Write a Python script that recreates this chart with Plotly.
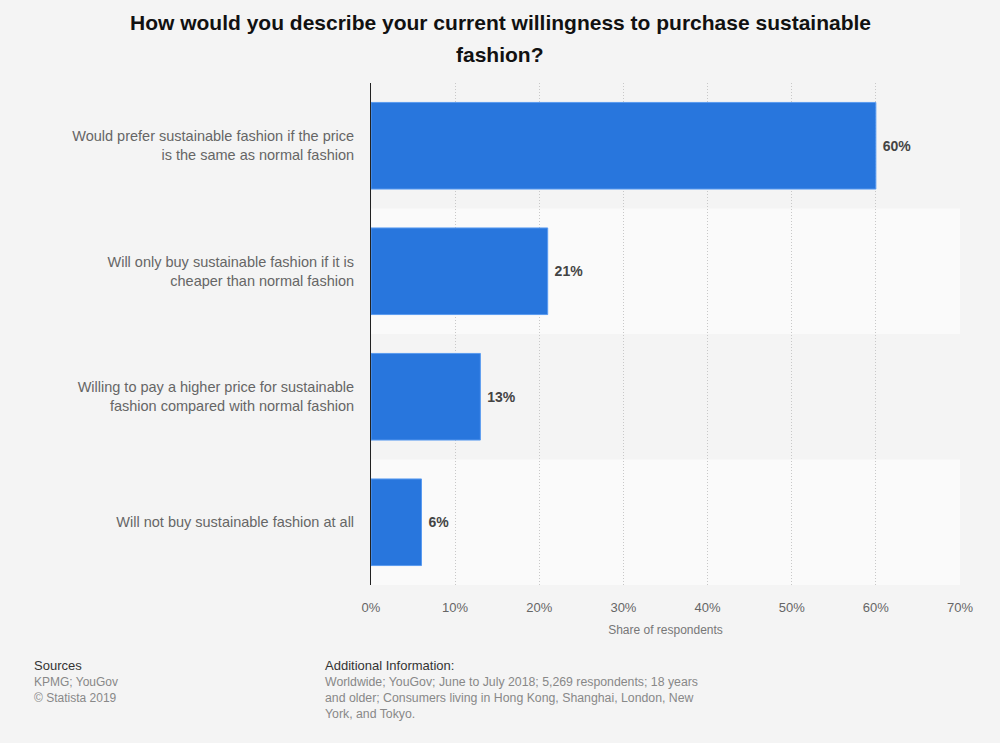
import plotly.graph_objects as go

# data
categories = [
    "Would prefer sustainable fashion if the price<br>is the same as normal fashion",
    "Will only buy sustainable fashion if it is<br>cheaper than normal fashion",
    "Willing to pay a higher price for sustainable<br>fashion compared with normal fashion",
    "Will not buy sustainable fashion at all",
]
values = [60, 21, 13, 6]
tick_vals = [0, 10, 20, 30, 40, 50, 60, 70]
tick_text = ["0%", "10%", "20%", "30%", "40%", "50%", "60%", "70%"]

FONT = "Liberation Sans, Arial, sans-serif"
W, H = 1000, 743
L, R, T, B = 371, 40, 83, 158

fig = go.Figure()
fig.add_trace(go.Bar(
    x=values, y=categories, orientation="h",
    marker=dict(color="#2876dd", line=dict(color="#5a9bf0", width=1)),
    width=0.69,
    text=[f" {v}%" for v in values],
    textposition="outside",
    textfont=dict(family=FONT, size=14, color="#444444", weight="bold"),
    cliponaxis=False,
    hoverinfo="skip",
))

# alternating row bands
for i, c in enumerate(categories):
    if i % 2 == 1:
        fig.add_shape(type="rect", xref="x domain", yref="y",
                      x0=0, x1=1, y0=i - 0.5, y1=i + 0.5,
                      fillcolor="#fafafa", line_width=0, layer="below")

fig.update_layout(
    width=W, height=H,
    paper_bgcolor="#f4f4f4", plot_bgcolor="#f4f4f4",
    margin=dict(l=L, r=R, t=T, b=B),
    showlegend=False,
    font=dict(family=FONT),
)
fig.update_xaxes(
    range=[0, 70], tickvals=tick_vals, ticktext=tick_text,
    showgrid=True, gridcolor="#c8c8c8", griddash="1px,2px", gridwidth=1,
    zeroline=False, showline=False,
    tickfont=dict(family=FONT, size=13, color="#666666"),
    ticks="", ticklabelstandoff=13,
    title=dict(text="Share of respondents", standoff=11,
               font=dict(family=FONT, size=12, color="#777777")),
)
fig.update_yaxes(
    autorange="reversed",
    showline=True, linecolor="#222222", linewidth=1,
    showgrid=False, ticks="", ticklabelstandoff=13,
    tickfont=dict(family=FONT, size=14.5, color="#666666"),
)


def px_to_paper(px_x, px_y):
    return (px_x - L) / (W - L - R), 1 - (px_y - T) / (H - T - B)


# title lines
for py, txt in [(22, "How would you describe your current willingness to purchase sustainable"),
                (54, "fashion?")]:
    ax, ay = px_to_paper(500, py)
    fig.add_annotation(x=ax, y=ay, xref="paper", yref="paper",
                       xanchor="center", yanchor="middle", showarrow=False,
                       text=f"<b>{txt}</b>",
                       font=dict(family=FONT, size=21, color="#111111"))

footer = [
    (32, 665, "Sources", 13, "#333333"),
    (32, 682, "KPMG; YouGov", 12, "#888888"),
    (32, 698, "© Statista 2019", 12, "#888888"),
    (323, 665, "Additional Information:", 13, "#333333"),
    (323, 682, "Worldwide; YouGov; June to July 2018; 5,269 respondents; 18 years", 12.3, "#888888"),
    (323, 698, "and older; Consumers living in Hong Kong, Shanghai, London, New", 12.3, "#888888"),
    (323, 714, "York, and Tokyo.", 12.3, "#888888"),
]
for px_x, px_y, txt, size, col in footer:
    ax, ay = px_to_paper(px_x, px_y)
    fig.add_annotation(
        x=ax, y=ay, xref="paper", yref="paper", xanchor="left", yanchor="middle",
        text=txt, showarrow=False, align="left",
        font=dict(family=FONT, size=size, color=col),
    )

fig.write_html("out.html", config={"displayModeBar": False},
               post_script="document.body.style.margin='0';document.body.style.background='#f4f4f4';")
